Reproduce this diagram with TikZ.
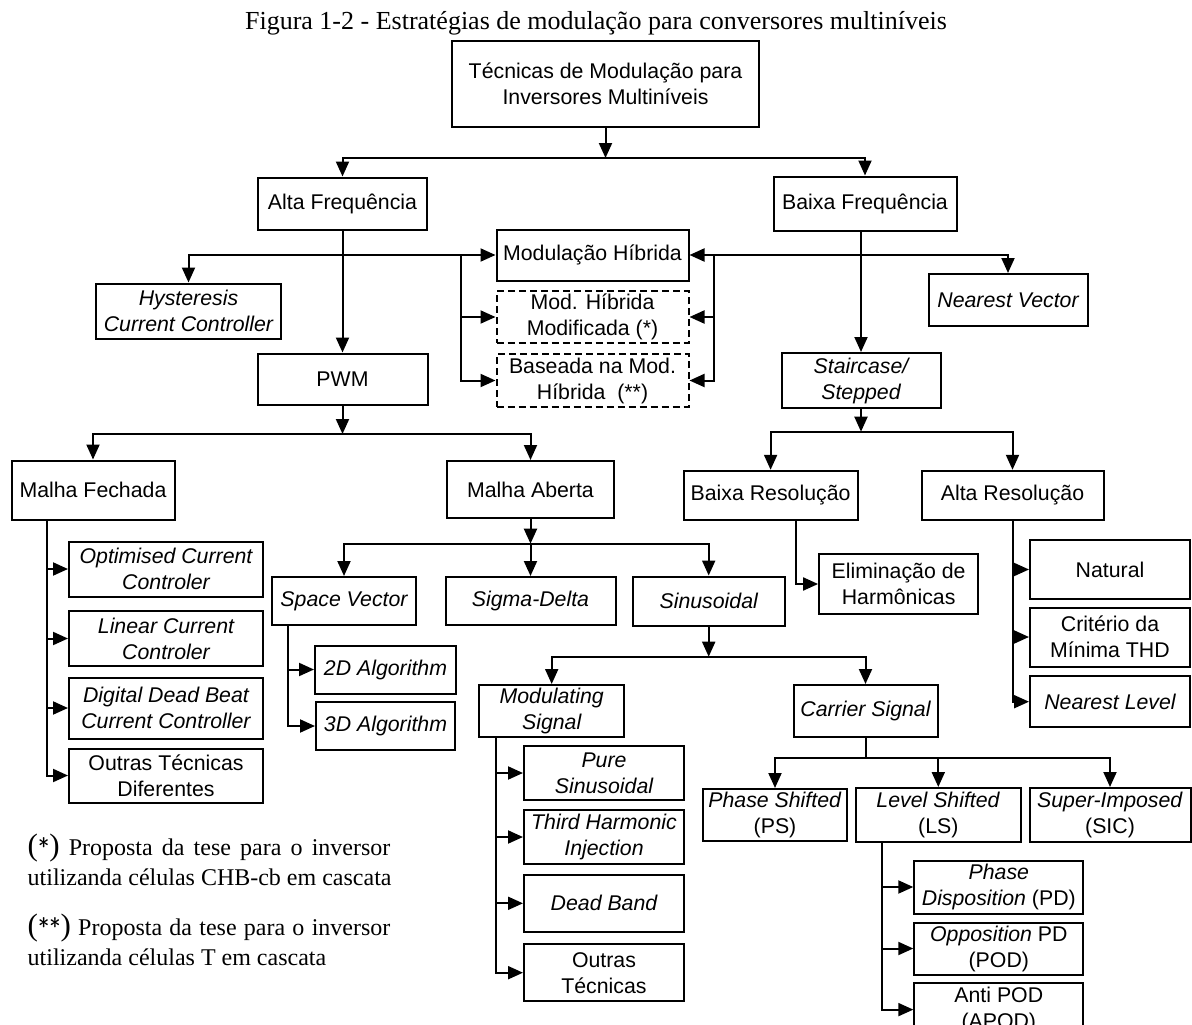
\documentclass[tikz,border=0pt]{standalone}
\usepackage{fontspec}
\setmainfont{Liberation Sans}
\newfontfamily\capserif{Liberation Serif}
\usetikzlibrary{arrows.meta}
\newcommand\nodesize{\fontsize{21.3pt}{26pt}\selectfont}
\newcommand\notesize{\capserif\fontsize{24pt}{30pt}\selectfont}
\newcommand\bigparen[1]{{\fontsize{31pt}{31pt}\selectfont #1}}

\begin{document}
\begin{tikzpicture}[x=1pt,y=-1pt,
  line width=2pt,
  box/.style={draw, line width=2pt, align=center, inner sep=0pt, font=\nodesize},
  dbox/.style={box, dash pattern=on 7pt off 4pt},
  sz/.style 2 args={minimum width=#1pt, minimum height=#2pt},
  arr/.style={-{Triangle[length=15pt,width=13pt]}},
  note/.style={anchor=base west, inner sep=0pt, font=\notesize}
]
\useasboundingbox (0,0) rectangle (1192,1025);
\fill[white] (0,0) rectangle (1192,1025);
\clip (0,0) rectangle (1192,1025);

% caption
\node[font=\capserif\fontsize{26pt}{30pt}\selectfont, anchor=base, inner sep=0pt] (cap) at (596,30)
  {Figura 1-2 - Estratégias de modulação para conversores multiníveis};

% first levels
\node[box, sz={307}{86}] (top) at (605.5,84) {Técnicas de Modulação para\\Inversores Multiníveis};
\node[box, sz={169}{52}] (alta) at (342.5,203.5) {Alta Frequência};
\node[box, sz={183}{54}] (baixa) at (865,203.5) {Baixa Frequência};
\node[box, sz={192}{51}] (mhib) at (592.5,255) {Modulação Híbrida};
\node[dbox, sz={192}{52}] (dh1) at (592.5,317) {Mod. Híbrida\\Modificada (*)};
\node[dbox, sz={192}{53}] (dh2) at (592.5,380.5) {Baseada na Mod.\\Híbrida\ \ (**)};
\node[box, sz={185}{55}] (hyst) at (188.5,311) {\itshape Hysteresis\\\itshape Current Controller};
\node[box, sz={159}{52}] (nvec) at (1008,300) {\itshape Nearest Vector};
\node[box, sz={170}{51}] (pwm) at (342.5,379) {PWM};
\node[box, sz={159}{55}] (stair) at (861,380.5) {\itshape Staircase/\\\itshape Stepped};

% PWM branch
\node[box, sz={163}{59}] (mfech) at (93,490) {Malha Fechada};
\node[box, sz={167}{57}] (maber) at (530.5,489.5) {Malha Aberta};
\node[box, sz={194}{55}] (opt) at (166,569) {\itshape Optimised Current\\\itshape Controler};
\node[box, sz={194}{55}] (lin) at (166,638.5) {\itshape Linear Current\\\itshape Controler};
\node[box, sz={194}{61}] (ddb) at (166,708) {\itshape Digital Dead Beat\\\itshape Current Controller};
\node[box, sz={194}{54}] (outd) at (166,775.5) {Outras Técnicas\\Diferentes};
\node[box, sz={144}{48}] (svec) at (344,601) {\itshape Space Vector};
\node[box, sz={170}{48}] (sigma) at (530.5,601) {\itshape Sigma-Delta};
\node[box, sz={152}{49}] (sinus) at (708.7,601) {\itshape Sinusoidal};
\node[box, sz={141}{48}] (alg2) at (385.5,669.5) {\itshape 2D Algorithm};
\node[box, sz={139}{48}] (alg3) at (385.5,726) {\itshape 3D Algorithm};
\node[box, sz={145}{52}] (modsig) at (551.7,711) {\itshape Modulating\\\itshape Signal};
\node[box, sz={144}{52}] (carsig) at (865.5,711) {\itshape Carrier Signal};
\node[box, sz={160}{54}] (pure) at (604,773) {\itshape Pure\\\itshape Sinusoidal};
\node[box, sz={160}{54}] (thi) at (604,837) {\itshape Third Harmonic\\\itshape Injection};
\node[box, sz={160}{57}] (dband) at (604,903.3) {\itshape Dead Band};
\node[box, sz={160}{57}] (outt) at (604,972.7) {Outras\\Técnicas};
\node[box, sz={144}{52}] (ps) at (775,815) {\textit{Phase Shifted}\\(PS)};
\node[box, sz={165}{54}] (ls) at (938.3,815) {\textit{Level Shifted}\\(LS)};
\node[box, sz={161}{54}] (sic) at (1110,815) {\textit{Super-Imposed}\\(SIC)};
\node[box, sz={169}{53}] (pd) at (998.8,887) {\textit{Phase}\\\textit{Disposition} (PD)};
\node[box, sz={169}{52}] (pod) at (998.8,948.5) {\textit{Opposition} PD\\(POD)};
\node[box, sz={169}{53}] (apod) at (998.8,1009.6) {Anti POD\\(APOD)};

% staircase branch
\node[box, sz={174}{49}] (bres) at (770.6,495.3) {Baixa Resolução};
\node[box, sz={182}{49}] (ares) at (1012.5,495.3) {Alta Resolução};
\node[box, sz={159}{60}] (elim) at (898.6,584) {Eliminação de\\Harmônicas};
\node[box, sz={160}{59}] (nat) at (1110,569.5) {Natural};
\node[box, sz={160}{59}] (crit) at (1110,637) {Critério da\\Mínima THD};
\node[box, sz={160}{51}] (nlev) at (1110,701.7) {\itshape Nearest Level};

% junction points on the buses
\coordinate (j1) at (605.5,158);
\coordinate (hx) at (342.5,255);
\coordinate (hl) at (461,255);
\coordinate (hr) at (713.5,255);
\coordinate (hx2) at (861,255);
\coordinate (j2) at (342.5,434);
\coordinate (j3) at (530.5,543.7);
\coordinate (j4) at (708.7,656.7);
\coordinate (j5) at (865.5,757.7);
\coordinate (j6) at (861,431.7);

% connectors
\draw[arr] (top) -- (j1);
\draw[arr] (j1) -| (alta);
\draw[arr] (j1) -| (baixa);

\draw[arr] (alta) -- (pwm);
\draw[arr] (hx) -- (mhib);
\draw[arr] (hx) -| (hyst);
\draw[arr] (hl) |- (dh1);
\draw[arr] (hl) |- (dh2);

\draw[arr] (stair |- baixa.south) -- (stair);
\draw[arr] (hx2) -- (mhib);
\draw[arr] (hx2) -| (nvec);
\draw[arr] (hr) |- (dh1);
\draw[arr] (hr) |- (dh2);

\draw[arr] (pwm) -- (j2);
\draw[arr] (j2) -| (mfech);
\draw[arr] (j2) -| (maber);

\draw[arr] ([xshift=-46.3pt]mfech.south) |- (opt);
\draw[arr] ([xshift=-46.3pt]mfech.south) |- (lin);
\draw[arr] ([xshift=-46.3pt]mfech.south) |- (ddb);
\draw[arr] ([xshift=-46.3pt]mfech.south) |- (outd);

\draw[arr] (maber) -- (j3);
\draw[arr] (j3) -| (svec);
\draw[arr] (j3) -- (sigma);
\draw[arr] (j3) -| (sinus);

\draw[arr] ([xshift=-56.5pt]svec.south) |- (alg2);
\draw[arr] ([xshift=-56.5pt]svec.south) |- (alg3);

\draw[arr] (sinus) -- (j4);
\draw[arr] (j4) -| (modsig);
\draw[arr] (j4) -| (carsig);

\draw[arr] ([xshift=-56pt]modsig.south) |- (pure);
\draw[arr] ([xshift=-56pt]modsig.south) |- (thi);
\draw[arr] ([xshift=-56pt]modsig.south) |- (dband);
\draw[arr] ([xshift=-56pt]modsig.south) |- (outt);

\draw (carsig) -- (j5);
\draw[arr] (j5) -| (ps);
\draw[arr] (j5) -| (ls);
\draw[arr] (j5) -| (sic);

\draw[arr] ([xshift=-56pt]ls.south) |- (pd);
\draw[arr] ([xshift=-56pt]ls.south) |- (pod);
\draw[arr] ([xshift=-56pt]ls.south) |- (apod);

\draw[arr] (stair) -- (j6);
\draw[arr] (j6) -| (bres);
\draw[arr] (j6) -| (ares);
\draw[arr] ([xshift=25.7pt]bres.south) |- (elim);
\draw[arr] (ares.south) |- (nat);
\draw[arr] (ares.south) |- (crit);
\draw[arr] (ares.south) |- (nlev);

% notes
\node[note] (n1) at (26.7,855) {\makebox[362.7pt][s]{\bigparen{(}\textsf{*}\bigparen{)} Proposta da tese para o inversor}};
\node[note] (n2) at (26.7,885) {utilizanda células CHB-cb em cascata};
\node[note] (n3) at (26.7,935) {\makebox[362.7pt][s]{\bigparen{(}\textsf{**}\bigparen{)} Proposta da tese para o inversor}};
\node[note] (n4) at (26.7,965) {utilizanda células T em cascata};
\end{tikzpicture}
\end{document}
